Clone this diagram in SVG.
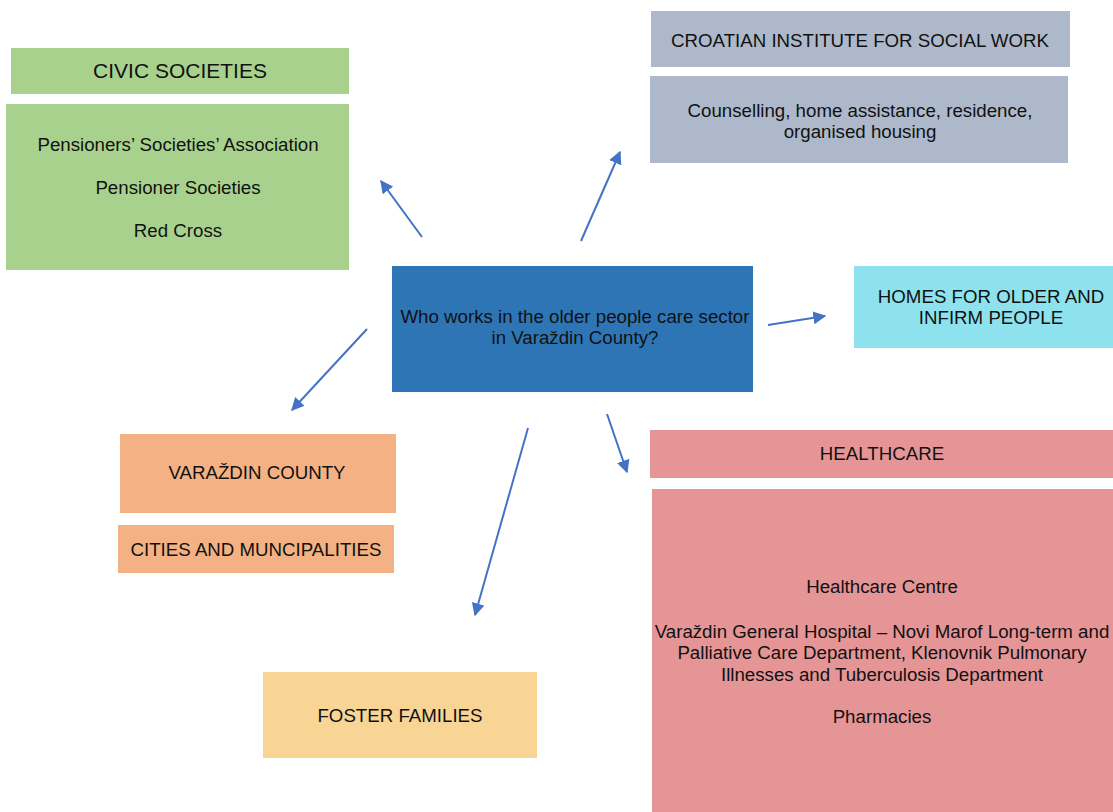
<svg xmlns="http://www.w3.org/2000/svg" width="1113" height="812" viewBox="0 0 1113 812">
<style>
text{font-family:"Liberation Sans",Arial,sans-serif;font-size:18.7px;fill:#111;text-anchor:middle}
.big{font-size:21px}
.c{stroke:#4472c4;stroke-width:2;fill:none;marker-end:url(#ah)}
.g{fill:#a9d18e}.s{fill:#adb9ca}.o{fill:#f4b183}.p{fill:#e69597}
</style>
<defs>
<marker id="ah" viewBox="0 0 10 10" refX="9" refY="5" markerWidth="6.5" markerHeight="6.5" orient="auto" markerUnits="strokeWidth">
<path d="M0,0 L10,5 L0,10 z" fill="#4472c4"/>
</marker>
</defs>
<rect width="1113" height="812" fill="#fff"/>
<g id="civic-title"><rect class="g" x="11" y="48" width="338" height="46"/><text class="big" x="180" y="78">CIVIC SOCIETIES</text></g>
<g id="civic-body"><rect class="g" x="6" y="104" width="343" height="166"/>
<text x="178" y="151">Pensioners’ Societies’ Association</text>
<text x="178" y="194">Pensioner Societies</text>
<text x="178" y="237">Red Cross</text></g>
<g id="cisw-title"><rect class="s" x="651" y="11" width="419" height="56"/><text x="860" y="47">CROATIAN INSTITUTE FOR SOCIAL WORK</text></g>
<g id="cisw-body"><rect class="s" x="650" y="76" width="418" height="87"/>
<text x="860" y="117">Counselling, home assistance, residence,</text>
<text x="860" y="138">organised housing</text></g>
<g id="center"><rect fill="#2e75b6" x="392" y="266" width="361" height="126"/>
<text x="575" y="323">Who works in the older people care sector</text>
<text x="575" y="344">in Varaždin County?</text></g>
<g id="homes"><rect fill="#8de2ee" x="854" y="266" width="259" height="82"/>
<text x="991" y="303">HOMES FOR OLDER AND</text>
<text x="991" y="324">INFIRM PEOPLE</text></g>
<g id="county"><rect class="o" x="120" y="434" width="276" height="79"/><text x="257" y="479">VARAŽDIN COUNTY</text></g>
<g id="cities"><rect class="o" x="118" y="525" width="276" height="48"/><text x="256" y="556">CITIES AND MUNCIPALITIES</text></g>
<g id="health-title"><rect class="p" x="650" y="430" width="463" height="48"/><text x="882" y="460">HEALTHCARE</text></g>
<g id="health-body"><rect class="p" x="652" y="489" width="461" height="323"/>
<text x="882" y="593">Healthcare Centre</text>
<text x="882" y="638">Varaždin General Hospital – Novi Marof Long-term and</text>
<text x="882" y="659">Palliative Care Department, Klenovnik Pulmonary</text>
<text x="882" y="681">Illnesses and Tuberculosis Department</text>
<text x="882" y="723">Pharmacies</text></g>
<g id="foster"><rect fill="#f8d595" x="263" y="672" width="274" height="86"/><text x="400" y="722">FOSTER FAMILIES</text></g>
<g id="connectors">
<line class="c" x1="422" y1="237" x2="381" y2="181"/>
<line class="c" x1="581" y1="241" x2="620" y2="152"/>
<line class="c" x1="768" y1="325" x2="825" y2="316"/>
<line class="c" x1="367" y1="329" x2="292" y2="410"/>
<line class="c" x1="528" y1="428" x2="475" y2="615"/>
<line class="c" x1="607" y1="414" x2="627" y2="472"/>
</g>
</svg>
